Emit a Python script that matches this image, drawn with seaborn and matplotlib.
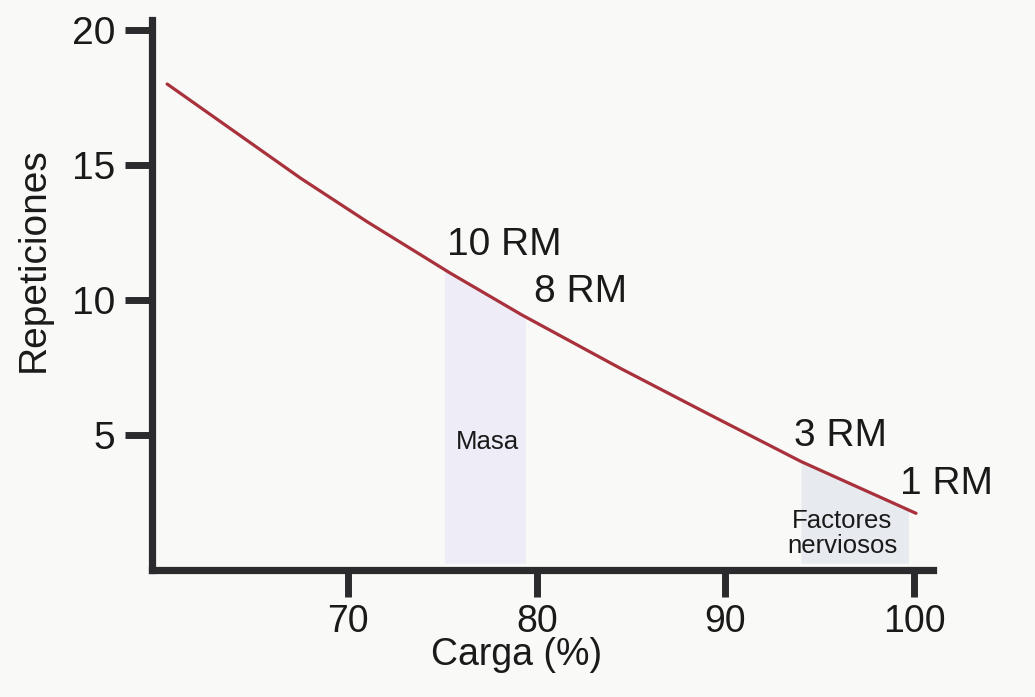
import numpy as np
import pandas as pd
import matplotlib
matplotlib.use("Agg")
import matplotlib.pyplot as plt
import seaborn as sns

# ---- data ----
carga = [60.4, 67.5, 71.0, 75.4, 79.2, 84.4, 89.2, 94.0, 100.1]
repeticiones = [18.0, 14.5, 12.9, 11.0, 9.45, 7.48, 5.74, 4.02, 2.1]

x_ticks = [70, 80, 90, 100]
y_ticks = [5, 10, 15, 20]

zona_masa = [75.1, 79.4]
zona_nerviosa = [94.0, 99.7]

rm_labels = ["10 RM", "8 RM", "3 RM", "1 RM"]
rm_x = [78.3, 82.3, 96.1, 101.7]
rm_y = [12.05, 10.3, 4.95, 3.2]

zone_labels = ["Masa", "Factores\nnerviosos"]
zone_x = [77.4, 96.2]
zone_y = [4.75, 1.35]

sns.set_theme(style="ticks")
plt.rcParams["font.family"] = ["Liberation Sans", "DejaVu Sans"]

bg = "#f9f9f8"
axis_col = "#2b2b2d"
line_col = "#a8313b"
text_col = "#1a1a1a"

fig = plt.figure(figsize=(10.35, 6.97), dpi=100, facecolor=bg)
ax = fig.add_axes([0.1469, 0.1822, 0.9014 - 0.1469, 0.9713 - 0.1822])
ax.set_facecolor(bg)

df = pd.DataFrame({"Carga": carga, "Repeticiones": repeticiones})

# shaded zones under the curve
for (x0, x1), col in zip([zona_masa, zona_nerviosa], ["#edecf7", "#e7ebf0"]):
    xs = np.linspace(x0, x1, 50)
    ys = np.interp(xs, carga, repeticiones)
    ax.fill_between(xs, 0.25, ys, color=col, lw=0, zorder=1)

sns.lineplot(data=df, x="Carga", y="Repeticiones", ax=ax, color=line_col,
             lw=2.3, zorder=3)

for t, x, y in zip(rm_labels, rm_x, rm_y):
    ax.text(x, y, t, fontsize=28, ha="center", va="center", color=text_col,
            clip_on=False, zorder=4)
for t, x, y in zip(zone_labels, zone_x, zone_y):
    ax.text(x, y, t, fontsize=18.5, ha="center", va="center", color=text_col,
            linespacing=1.05, zorder=4)

ax.set_xlim(59.6, 101.0)
ax.set_ylim(0, 20.37)
ax.set_xticks(x_ticks)
ax.set_yticks(y_ticks)
ax.set_xticklabels([str(v) for v in x_ticks])
ax.set_yticklabels([str(v) for v in y_ticks])

for s in ["top", "right"]:
    ax.spines[s].set_visible(False)
for s in ["left", "bottom"]:
    ax.spines[s].set_linewidth(5.2)
    ax.spines[s].set_color(axis_col)
    ax.spines[s].set_capstyle("projecting")

ax.tick_params(axis="both", direction="out", length=19.5, width=5,
               color=axis_col, labelsize=28, labelcolor=text_col)
ax.tick_params(axis="x", pad=5, labelsize=27)
ax.tick_params(axis="y", pad=7)

ax.set_xlabel("Carga (%)", fontsize=27, color=text_col)
ax.set_ylabel("Repeticiones", fontsize=28, color=text_col)
ax.xaxis.set_label_coords(0.467, -0.122)
ax.yaxis.set_label_coords(-0.152, 0.564)
ax.yaxis.label.set_va("center")

fig.savefig("out.png", dpi=100, facecolor=bg)
